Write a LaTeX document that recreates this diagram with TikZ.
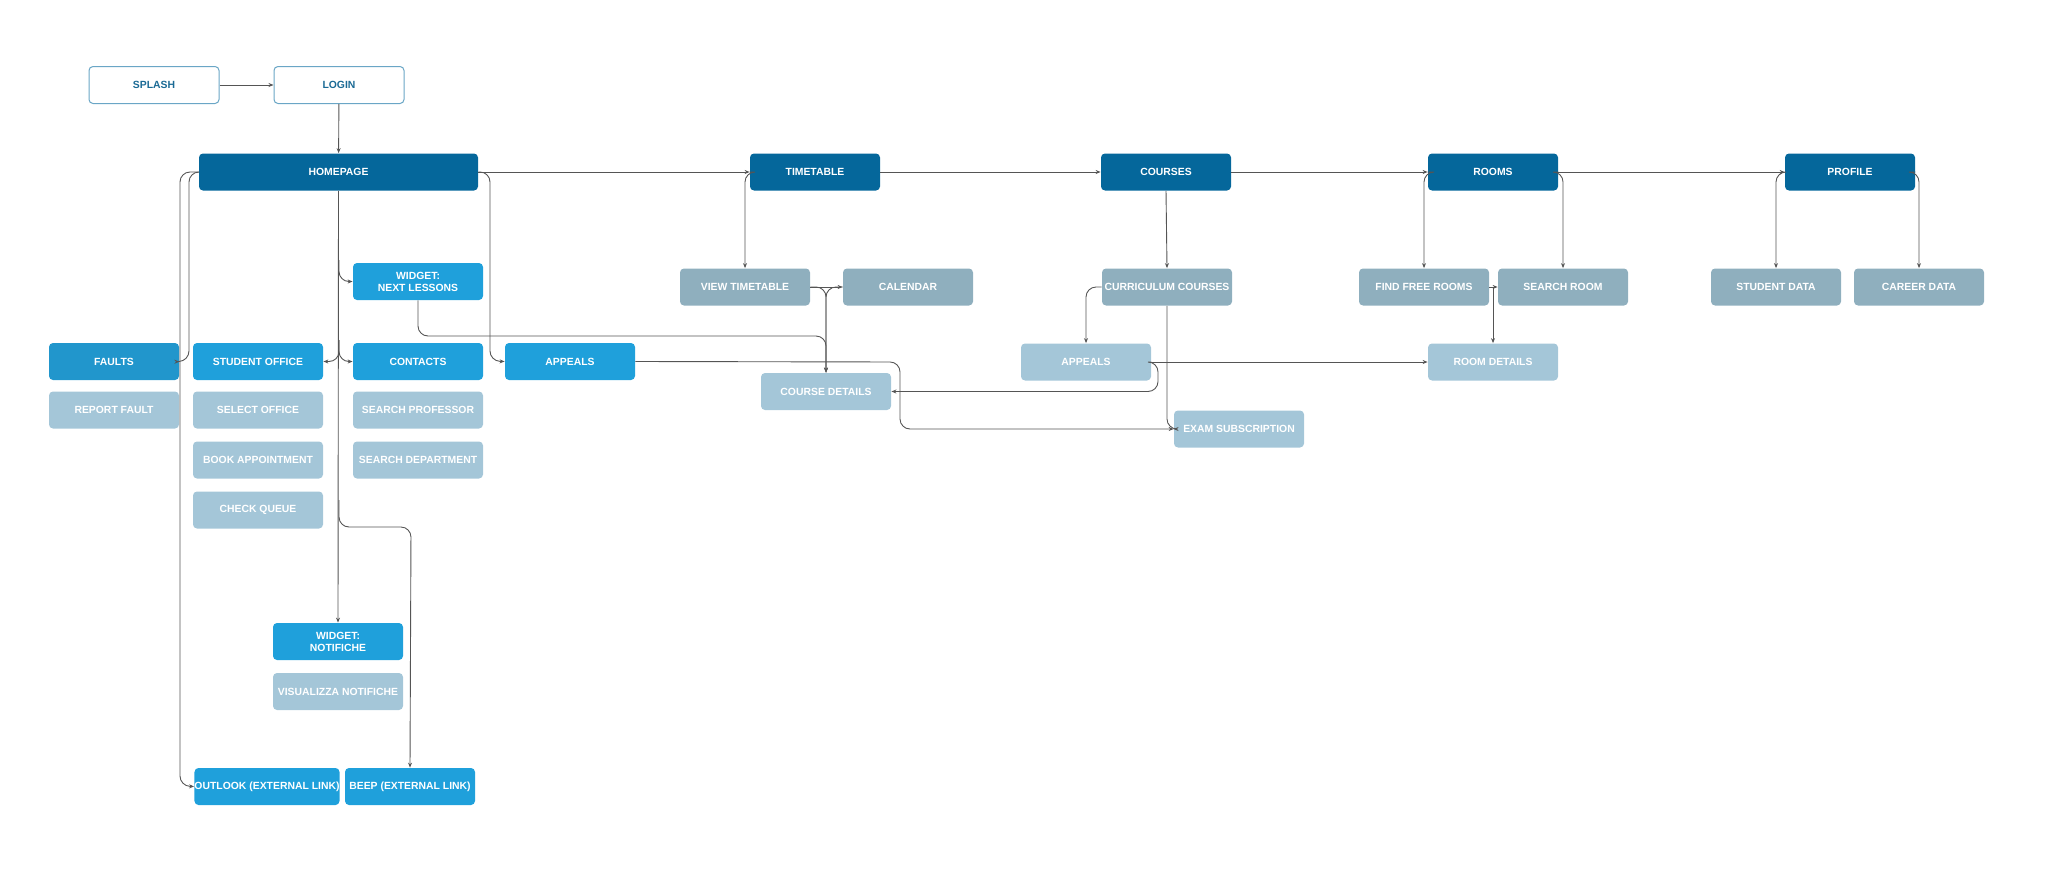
\documentclass[tikz,border=0pt]{standalone}
\usepackage{fontspec}
\setmainfont{Liberation Sans}
\usetikzlibrary{arrows.meta}
\definecolor{dk}{HTML}{05679B}
\definecolor{br}{HTML}{1FA0DB}
\definecolor{fa}{HTML}{2196CC}
\definecolor{gb}{HTML}{8FAFBE}
\definecolor{lt}{HTML}{A4C6D8}
\definecolor{ol}{HTML}{6AA6C6}
\definecolor{otx}{HTML}{1A6A95}
\definecolor{ln}{HTML}{555555}
\begin{document}
\begin{tikzpicture}[x=0.5pt,y=-0.5pt,
 bx/.style={rounded corners=2pt,minimum width=65pt,minimum height=18.5pt,inner sep=0pt,align=center,font=\fontsize{5.2}{6}\selectfont\bfseries,text=white},
 dkb/.style={bx,fill=dk},
 brb/.style={bx,fill=br},
 gbb/.style={bx,fill=gb},
 ltb/.style={bx,fill=lt},
 olb/.style={bx,fill=white,draw=ol,line width=0.5pt,text=otx},
 cn/.style={draw=ln,line width=0.45pt,rounded corners=5pt,-{Stealth[length=2.5pt,width=2pt]}},
 ln/.style={draw=ln,line width=0.45pt,rounded corners=5pt}]
\useasboundingbox (0,0) rectangle (2048,894);
% nodes
\node[olb] (splash) at (154,85) {SPLASH};
\node[olb] (login) at (339,85) {LOGIN};
\node[dkb,minimum width=139.5pt] (home) at (338.5,172) {HOMEPAGE};
\node[dkb] (tt) at (815,172) {TIMETABLE};
\node[dkb] (co) at (1166,172) {COURSES};
\node[dkb] (ro) at (1493,172) {ROOMS};
\node[dkb] (pr) at (1850,172) {PROFILE};
\node[gbb] (vt) at (745,287) {VIEW TIMETABLE};
\node[gbb] (cal) at (908,287) {CALENDAR};
\node[gbb] (cc) at (1167,287) {CURRICULUM COURSES};
\node[gbb] (ffr) at (1424,287) {FIND FREE ROOMS};
\node[gbb] (sr) at (1563,287) {SEARCH ROOM};
\node[gbb] (sd) at (1776,287) {STUDENT DATA};
\node[gbb] (cd) at (1919,287) {CAREER DATA};
\node[brb] (wnl) at (418,281.5) {WIDGET:\\NEXT LESSONS};
\node[bx,fill=fa] (fau) at (114,361.5) {FAULTS};
\node[brb] (so) at (258,361.5) {STUDENT OFFICE};
\node[brb] (con) at (418,361.5) {CONTACTS};
\node[brb] (app) at (570,361.5) {APPEALS};
\node[ltb] (rf) at (114,410) {REPORT FAULT};
\node[ltb] (sel) at (258,410) {SELECT OFFICE};
\node[ltb] (sp) at (418,410) {SEARCH PROFESSOR};
\node[ltb] (ba) at (258,460) {BOOK APPOINTMENT};
\node[ltb] (sdep) at (418,460) {SEARCH DEPARTMENT};
\node[ltb] (cq) at (258,510) {CHECK QUEUE};
\node[ltb] (app2) at (1086,362) {APPEALS};
\node[ltb] (rd) at (1493,362) {ROOM DETAILS};
\node[ltb] (cdet) at (826,391.5) {COURSE DETAILS};
\node[ltb] (es) at (1239,429) {EXAM SUBSCRIPTION};
\node[brb] (wn) at (338,641.5) {WIDGET:\\NOTIFICHE};
\node[ltb] (vn) at (338,691.5) {VISUALIZZA NOTIFICHE};
\node[brb] (out) at (267,786.5) {OUTLOOK (EXTERNAL LINK)};
\node[brb] (beep) at (410,786.5) {BEEP (EXTERNAL LINK)};
% connectors
\draw[cn] (splash) -- (login);
\draw[cn] (login) -- (home);
\draw[cn] (home.east) -- (tt.west);
\draw[cn] (tt.east) -- (co.west);
\draw[cn] (co.east) -- (ro.west);
\draw[cn] (ro.east) -- (pr.west);
\draw[cn] (home.south) -- (wn.north);
\draw[cn] (339,260) |- (wnl.west);
\draw[cn] (339,340) |- (so.east);
\draw[cn] (339,340) |- (con.west);
\draw[cn] (339,500) |- (411,527) -- (beep.north);
\draw[cn] (home.west) -| (189,361) -- (fau.east);
\draw[cn] (home.west) -| (180,786) -- (out.west);
\draw[cn] (home.east) -| (490,361) -- (app.west);
\draw[cn] (wnl.south) |- (826,336) -- (cdet.north);
\draw[cn] (tt.west) -| (vt.north);
\draw[cn] (vt.east) -- (cal.west);
\draw[cn] (vt.east) -| (cdet.north);
\draw[cn] (cal.west) -| (cdet.north);
\draw[cn] (app.east) -- (900,362) |- (es.west);
\draw[cn] (co.south) -- (cc.north);
\draw[cn] (cc.west) -| (app2.north);
\draw[cn] (cc.south) |- (es.west);
\draw[cn] (app2.east) -| (1158,391.5) -- (cdet.east);
\draw[cn] (app2.east) -- (rd.west);
\draw[cn] (ro.west) -| (ffr.north);
\draw[cn] (ro.east) -| (sr.north);
\draw[cn] (ffr.east) -- (sr.west);
\draw[cn] (1493,287) -- (rd.north);
\draw[cn] (pr.west) -| (sd.north);
\draw[cn] (pr.east) -| (cd.north);
\end{tikzpicture}
\end{document}
